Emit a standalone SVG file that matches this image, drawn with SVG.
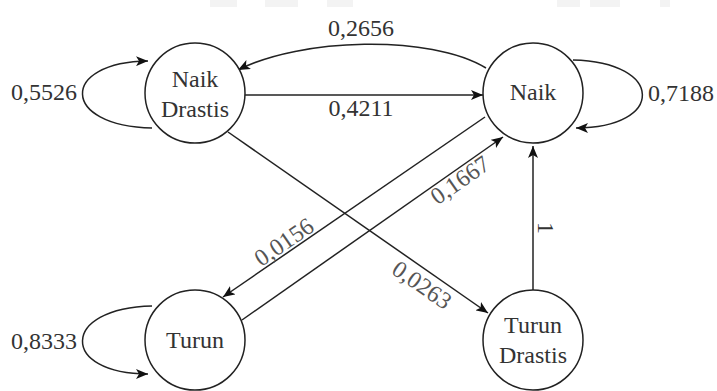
<svg xmlns="http://www.w3.org/2000/svg" width="717" height="391" viewBox="0 0 717 391">
  <defs>
    <marker id="arr" viewBox="0 0 12 10" refX="12" refY="5" markerWidth="12" markerHeight="10" markerUnits="userSpaceOnUse" orient="auto">
      <path d="M0,0 L12,5 L0,10 L3,5 Z" fill="#111"/>
    </marker>
  </defs>
  <style>
    .node circle { fill: #fff; stroke: #222; stroke-width: 1.5; }
    .t { font-size: 24px; fill: #333; text-anchor: middle; }
    .rot { fill: #555; }
    .edge { fill: none; stroke: #222; stroke-width: 1.5; marker-end: url(#arr); }
    .wm { fill: #f3f3f3; }
  </style>
  <rect width="717" height="391" fill="#fff"/>
  <g id="watermark">
    <rect class="wm" x="210" y="0" width="27" height="7"/>
    <rect class="wm" x="265" y="0" width="33" height="7"/>
    <rect class="wm" x="327" y="0" width="26" height="7"/>
    <rect class="wm" x="557" y="0" width="23" height="7"/>
    <rect class="wm" x="590" y="0" width="30" height="7"/>
    <rect class="wm" x="660" y="0" width="10" height="7"/>
  </g>
  <g id="connectors">
    <path class="edge" d="M152,128 C60,126 60,62 148,61"/>
    <path class="edge" d="M245,95 L483,95"/>
    <path class="edge" d="M486,68 C430,34 300,38 238,70"/>
    <path class="edge" d="M573,60 C665,62 665,128 576,128"/>
    <path class="edge" d="M485,117 L223,297"/>
    <path class="edge" d="M242,320 L503,137"/>
    <path class="edge" d="M228,132 L488,313"/>
    <path class="edge" d="M533,290 L533,146"/>
    <path class="edge" d="M152,306 C60,308 60,374 148,374"/>
  </g>
  <g id="labels" font-family="'Liberation Serif', 'Times New Roman', 'DejaVu Serif', serif">
    <text class="t" x="44" y="100">0,5526</text>
    <text class="t" x="361" y="36">0,2656</text>
    <text class="t" x="361" y="116">0,4211</text>
    <text class="t" x="681" y="101">0,7188</text>
    <text class="t" x="44" y="349">0,8333</text>
    <text class="t rot" transform="translate(284,242) rotate(-34.5)" x="0" y="8">0,0156</text>
    <text class="t rot" transform="translate(460,180) rotate(-35)" x="0" y="8">0,1667</text>
    <text class="t rot" transform="translate(422,285) rotate(34.8)" x="0" y="8">0,0263</text>
    <text class="t" transform="translate(546,228) rotate(90)" x="0" y="8">1</text>
  </g>
  <g id="naik-drastis" class="node" font-family="'Liberation Serif', 'Times New Roman', 'DejaVu Serif', serif">
    <circle cx="195" cy="93" r="50"/>
    <text class="t" x="195" y="87">Naik</text>
    <text class="t" x="195" y="117">Drastis</text>
  </g>
  <g id="naik" class="node" font-family="'Liberation Serif', 'Times New Roman', 'DejaVu Serif', serif">
    <circle cx="533" cy="93" r="50"/>
    <text class="t" x="533" y="100">Naik</text>
  </g>
  <g id="turun" class="node" font-family="'Liberation Serif', 'Times New Roman', 'DejaVu Serif', serif">
    <circle cx="195" cy="340" r="50"/>
    <text class="t" x="195" y="348">Turun</text>
  </g>
  <g id="turun-drastis" class="node" font-family="'Liberation Serif', 'Times New Roman', 'DejaVu Serif', serif">
    <circle cx="533" cy="340" r="50"/>
    <text class="t" x="533" y="333">Turun</text>
    <text class="t" x="533" y="363">Drastis</text>
  </g>
</svg>
